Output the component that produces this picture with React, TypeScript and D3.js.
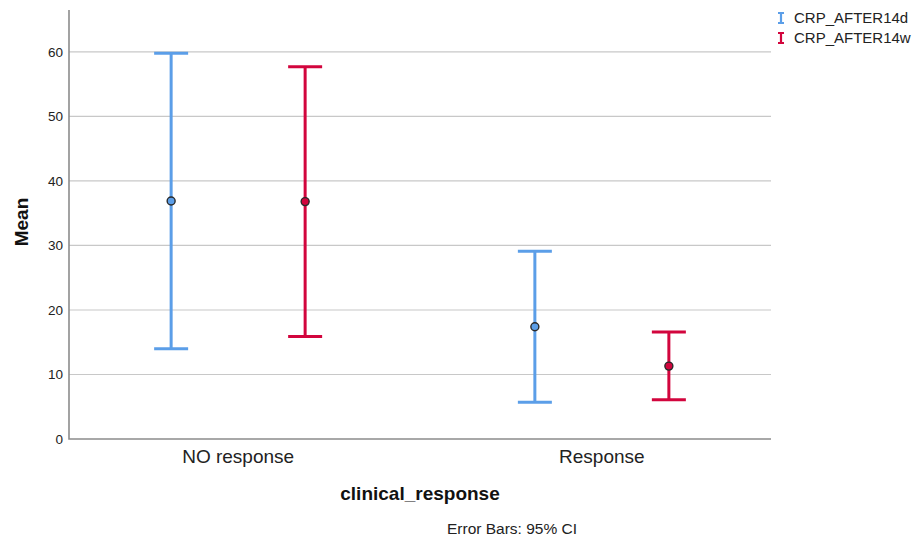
import React, { useEffect, useRef } from "react";
import * as d3 from "d3";

const categories = ["NO response", "Response"];
const seriesNames = ["CRP_AFTER14d", "CRP_AFTER14w"];
const seriesColors = ["#5b9ee8", "#d2053d"];
// mean, lower 95% CI, upper 95% CI, per category
const afterDays = [
  { mean: 36.9, low: 14.0, high: 59.8 },
  { mean: 17.4, low: 5.7, high: 29.1 },
];
const afterWeeks = [
  { mean: 36.8, low: 15.9, high: 57.7 },
  { mean: 11.3, low: 6.1, high: 16.6 },
];
const yTicks = [0, 10, 20, 30, 40, 50, 60];

const App = () => {
  const ref = useRef<SVGSVGElement>(null);

  useEffect(() => {
    const width = 916;
    const height = 540;
    const left = 69;
    const right = 771;
    const top = 10;
    const bottom = 439;

    const svg = d3.select(ref.current);
    svg.selectAll("*").remove();
    svg.attr("width", width).attr("height", height);

    const x = d3.scalePoint().domain(categories).range([left, right]).padding(0.465);
    const inner = d3.scaleBand().domain(seriesNames).range([-134, 134]);
    const y = d3.scaleLinear().domain([0, 66.5]).range([bottom, top]);

    const font = "Liberation Sans, Arial, sans-serif";

    // gridlines
    svg
      .append("g")
      .selectAll("line")
      .data(yTicks.filter((d) => d > 0))
      .join("line")
      .attr("x1", left)
      .attr("x2", right)
      .attr("y1", (d) => y(d))
      .attr("y2", (d) => y(d))
      .attr("stroke", "#c8c8c8")
      .attr("stroke-width", 1.2);

    // y tick labels
    svg
      .append("g")
      .selectAll("text")
      .data(yTicks)
      .join("text")
      .attr("x", left - 6)
      .attr("y", (d) => y(d))
      .attr("dy", "0.35em")
      .attr("text-anchor", "end")
      .attr("font-family", font)
      .attr("font-size", 13.5)
      .attr("fill", "#222")
      .text((d) => d);

    // axes lines
    svg
      .append("path")
      .attr("d", `M${left},${top}V${bottom}H${right}`)
      .attr("fill", "none")
      .attr("stroke", "#8c8c8c")
      .attr("stroke-width", 1.6);

    // x labels
    svg
      .append("g")
      .selectAll("text")
      .data(categories)
      .join("text")
      .attr("x", (d) => x(d)!)
      .attr("y", 463)
      .attr("text-anchor", "middle")
      .attr("font-family", font)
      .attr("font-size", 19)
      .attr("fill", "#222")
      .text((d) => d);

    const series = [afterDays, afterWeeks];
    series.forEach((vals, si) => {
      const name = seriesNames[si];
      const color = seriesColors[si];
      const g = svg.append("g");
      const cx = (i: number) => x(categories[i])! + inner(name)! + inner.bandwidth() / 2;
      const capW = 17;

      g.selectAll("line.bar")
        .data(vals)
        .join("line")
        .attr("x1", (d, i) => cx(i))
        .attr("x2", (d, i) => cx(i))
        .attr("y1", (d) => y(d.low))
        .attr("y2", (d) => y(d.high))
        .attr("stroke", color)
        .attr("stroke-width", 3);

      ["low", "high"].forEach((k) => {
        g.selectAll(`line.cap-${k}`)
          .data(vals)
          .join("line")
          .attr("x1", (d, i) => cx(i) - capW)
          .attr("x2", (d, i) => cx(i) + capW)
          .attr("y1", (d: any) => y(d[k]))
          .attr("y2", (d: any) => y(d[k]))
          .attr("stroke", color)
          .attr("stroke-width", 3);
      });

      g.selectAll("circle")
        .data(vals)
        .join("circle")
        .attr("cx", (d, i) => cx(i))
        .attr("cy", (d) => y(d.mean))
        .attr("r", 4)
        .attr("fill", color)
        .attr("stroke", "#2a2a2a")
        .attr("stroke-width", 1.4);
    });

    // axis titles
    svg
      .append("text")
      .attr("transform", `translate(28,222) rotate(-90)`)
      .attr("text-anchor", "middle")
      .attr("font-family", font)
      .attr("font-size", 19)
      .attr("font-weight", "bold")
      .attr("fill", "#111")
      .text("Mean");

    svg
      .append("text")
      .attr("x", 420)
      .attr("y", 500)
      .attr("text-anchor", "middle")
      .attr("font-family", font)
      .attr("font-size", 19)
      .attr("font-weight", "bold")
      .attr("fill", "#111")
      .text("clinical_response");

    svg
      .append("text")
      .attr("x", 512)
      .attr("y", 534)
      .attr("text-anchor", "middle")
      .attr("font-family", font)
      .attr("font-size", 15.5)
      .attr("fill", "#222")
      .text("Error Bars: 95% CI");

    // legend
    const legend = svg
      .append("g")
      .selectAll("g")
      .data(seriesNames)
      .join("g")
      .attr("transform", (d, i) => `translate(781,${18 + i * 20})`);
    legend
      .append("path")
      .attr("d", "M-3,-5H3M0,-5V5M-3,5H3")
      .attr("stroke", (d, i) => seriesColors[i])
      .attr("stroke-width", 2.2)
      .attr("fill", "none");
    legend
      .append("text")
      .attr("x", 13)
      .attr("dy", "0.35em")
      .attr("font-family", font)
      .attr("font-size", 15)
      .attr("fill", "#222")
      .text((d) => d);
  }, []);

  return (
    <div style={{ position: "absolute", left: 0, top: 0 }}>
      <svg ref={ref}></svg>
    </div>
  );
};

export default App;
